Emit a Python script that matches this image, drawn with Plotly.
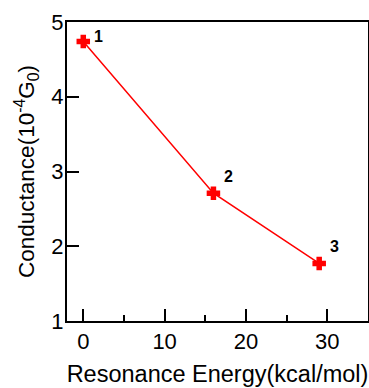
import plotly.graph_objects as go

energy = [0, 16, 29]
conductance = [4.74, 2.71, 1.77]
labels = ["1", "2", "3"]

fig = go.Figure()
fig.add_trace(go.Scatter(
    x=energy, y=conductance, mode="lines+markers",
    line=dict(color="#ff0000", width=1.5),
    marker=dict(symbol="cross", size=10, color="#ff0000", line=dict(color="#ff0000", width=1.5)),
    showlegend=False,
))
for xv, yv, t in zip(energy, conductance, labels):
    fig.add_annotation(x=xv, y=yv, text="<b>%s</b>" % t, showarrow=False,
                       xshift=15, yshift=5 if t == "1" else 17,
                       font=dict(size=16, color="black", family="Liberation Sans"))

axis_common = dict(showline=True, linecolor="black", linewidth=2, mirror=True,
                   ticks="inside", tickcolor="black", tickwidth=2, ticklen=12,
                   showgrid=False, zeroline=False, automargin=False,
                   tickfont=dict(size=22, color="black", family="Liberation Sans"))
fig.update_xaxes(range=[-2, 35], tickvals=[0, 10, 20, 30],
                 minor=dict(ticks="inside", dtick=5, tick0=0, ticklen=6, tickwidth=2, tickcolor="black"),
                 title=dict(text="Resonance Energy(kcal/mol)", standoff=12,
                            font=dict(size=23.5, color="black", family="Liberation Sans")),
                 **axis_common)
fig.update_yaxes(range=[1, 5], tickvals=[1, 2, 3, 4, 5], ticklabelstandoff=-3,
                 title=dict(text="Conductance(10<sup>-4</sup>G<sub>0</sub>)", standoff=10,
                            font=dict(size=22.5, color="black", family="Liberation Sans")),
                 **axis_common)
fig.update_layout(width=369, height=388, margin=dict(l=67, r=1, t=22, b=67),
                  plot_bgcolor="white", paper_bgcolor="white")
fig.write_html("out.html", config={"displayModeBar": False},
               post_script="document.body.style.margin='0';document.body.style.overflow='hidden';")
